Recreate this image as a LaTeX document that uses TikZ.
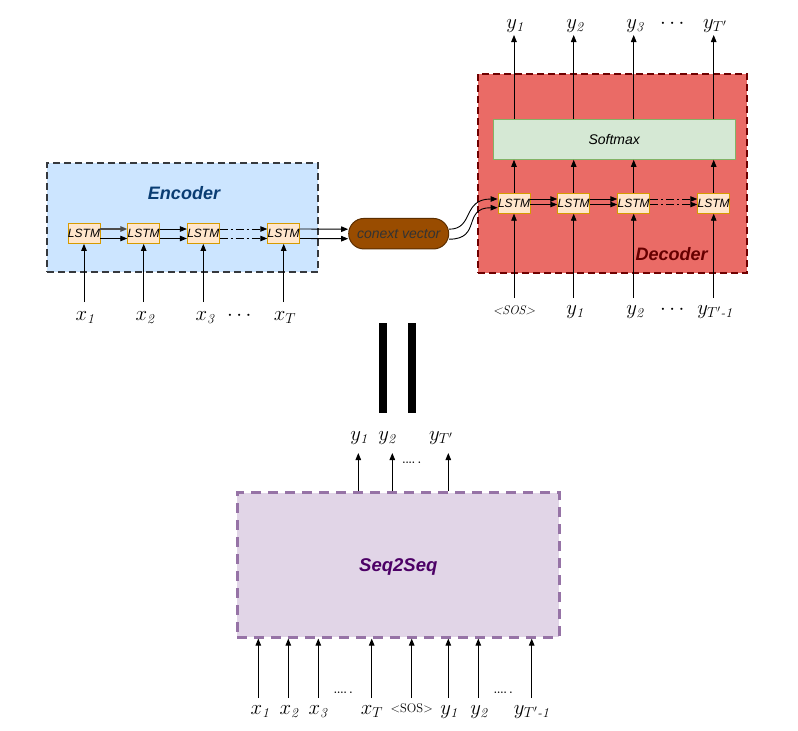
\documentclass[tikz,border=0pt]{standalone}
\usepackage{amsmath}
\usepackage{fontspec}
\setsansfont{Liberation Sans}
\usetikzlibrary{arrows.meta,calc,shapes.misc}
\definecolor{encfill}{HTML}{CCE5FF}
\definecolor{encdraw}{HTML}{36393D}
\definecolor{enctext}{HTML}{0A3D73}
\definecolor{decfill}{HTML}{EA6B66}
\definecolor{decdraw}{HTML}{6F0000}
\definecolor{dectext}{HTML}{660000}
\definecolor{lstmfill}{HTML}{FFE6CC}
\definecolor{lstmdraw}{HTML}{D79B00}
\definecolor{cvfill}{HTML}{994C00}
\definecolor{cvdraw}{HTML}{5C2E00}
\definecolor{cvtext}{HTML}{333333}
\definecolor{smfill}{HTML}{D5E8D4}
\definecolor{smdraw}{HTML}{82B366}
\definecolor{sqfill}{HTML}{E1D5E7}
\definecolor{sqdraw}{HTML}{9673A6}
\definecolor{sqtext}{HTML}{4C0066}
\newcommand{\mysub}[1]{\text{\itshape #1}}
\begin{document}
\begin{tikzpicture}[x=1pt,y=-1pt,
  lstm/.style={draw=lstmdraw, fill=lstmfill, line width=0.8pt, minimum width=31pt, minimum height=20pt, inner sep=0pt, font=\sffamily\itshape\fontsize{12}{12}\selectfont},
  arr/.style={-{Triangle[length=7pt,width=5.5pt]}, line width=0.9pt},
  lbl/.style={inner sep=0pt, anchor=base, font=\fontsize{19.5}{19.5}\selectfont},
  dotlbl/.style={inner sep=0pt, anchor=base, font=\fontsize{10}{10}\selectfont},
  dashdot/.style={dash pattern=on 8pt off 3pt on 2pt off 3pt},
  title/.style={inner sep=0pt, font=\sffamily\bfseries\itshape\fontsize{18}{18}\selectfont},
]
\useasboundingbox (0,0) rectangle (798,731);
\fill[white] (0,0) rectangle (798,731);

% ---------------- Encoder ----------------
\node[draw=encdraw, fill=encfill, line width=1.8pt, dash pattern=on 7pt off 4pt, minimum width=271pt, minimum height=109pt, inner sep=0pt] (enc) at (182.5,217.5) {};
\node[title, text=enctext] (enctitle) at (184,193) {Encoder};
\node[lstm] (e1) at (84,233.5) {LSTM};
\node[lstm] (e2) at (143.7,233.5) {LSTM};
\node[lstm] (e3) at (203.3,233.5) {LSTM};
\node[lstm] (e4) at (283.7,233.5) {LSTM};
\draw[arr, draw=black!70, line width=1.4pt] ($(e1.east)+(0,-4.5)$) -- ($(e2.west)+(0,-4.5)$);
\draw[arr] ($(e1.east)+(0,5)$) -- ($(e2.west)+(0,5)$);
\draw[arr] ($(e2.east)+(0,-4.5)$) -- ($(e3.west)+(0,-4.5)$);
\draw[arr] ($(e2.east)+(0,5)$) -- ($(e3.west)+(0,5)$);
\draw[arr, dashdot] ($(e3.east)+(0,-4.5)$) -- ($(e4.west)+(0,-4.5)$);
\draw[arr, dashdot] ($(e3.east)+(0,5)$) -- ($(e4.west)+(0,5)$);

\coordinate (xin1) at (84,302);
\coordinate (xin2) at (143.7,302);
\coordinate (xin3) at (203.3,302);
\coordinate (xin4) at (283.7,302);
\draw[arr] (xin1) -- (e1.south);
\draw[arr] (xin2) -- (e2.south);
\draw[arr] (xin3) -- (e3.south);
\draw[arr] (xin4) -- (e4.south);
\node[lbl] (lx1) at (85,320) {$x_{\mysub{1}}$};
\node[lbl] (lx2) at (145,320) {$x_{\mysub{2}}$};
\node[lbl] (lx3) at (205,320) {$x_{\mysub{3}}$};
\node[lbl] (lxd) at (241,320) {$\cdots$};
\node[lbl] (lxT) at (285,320) {$x_{T}$};

% ---------------- context vector ----------------
\node[draw=cvdraw, fill=cvfill, line width=1pt, rounded rectangle, minimum width=100pt, minimum height=30.5pt, inner sep=0pt, font=\sffamily\itshape\fontsize{14}{14}\selectfont, text=cvtext] (cv) at (398.7,233.7) {conext vector};
\draw[arr] ($(e4.east)+(0,-4.5)$) -- ($(cv.west)+(0,-4.5)$);
\draw[arr] ($(e4.east)+(0,5)$) -- ($(cv.west)+(0,5)$);

% ---------------- Decoder ----------------
\node[draw=decdraw, fill=decfill, line width=1.8pt, dash pattern=on 7pt off 4pt, minimum width=269pt, minimum height=198.7pt, inner sep=0pt] (dec) at (612.8,173.3) {};
\node[title, text=dectext] (dectitle) at (671.7,254.3) {Decoder};
\node[draw=smdraw, fill=smfill, line width=1pt, minimum width=241.7pt, minimum height=40pt, inner sep=0pt, font=\sffamily\itshape\fontsize{14}{14}\selectfont] (soft) at (614.2,139.3) {Softmax};
\node[lstm] (d1) at (514,203.3) {LSTM};
\node[lstm] (d2) at (573.7,203.3) {LSTM};
\node[lstm] (d3) at (633.7,203.3) {LSTM};
\node[lstm] (d4) at (713.7,203.3) {LSTM};
\draw[arr] ($(d1.east)+(0,-4.3)$) -- ($(d2.west)+(0,-4.3)$);
\draw[arr] ($(d1.east)+(0,1.2)$) -- ($(d2.west)+(0,1.2)$);
\draw[arr] ($(d2.east)+(0,-4.3)$) -- ($(d3.west)+(0,-4.3)$);
\draw[arr] ($(d2.east)+(0,1.2)$) -- ($(d3.west)+(0,1.2)$);
\draw[arr, dashdot] ($(d3.east)+(0,-4.3)$) -- ($(d4.west)+(0,-4.3)$);
\draw[arr, dashdot] ($(d3.east)+(0,1.2)$) -- ($(d4.west)+(0,1.2)$);

% curves from context vector to decoder
\draw[arr] ($(cv.east)+(0,-4.5)$) .. controls (474,229.2) and (462,199) .. ($(d1.west)+(0,-4.3)$);
\draw[arr] ($(cv.east)+(0,5.5)$) .. controls (482,239.2) and (462,207.7) .. ($(d1.west)+(0,4.4)$);

% LSTM -> softmax -> outputs
\foreach \i/\xx in {1/514,2/573.7,3/633.7,4/713.7}{
  \draw[arr] (d\i.north) -- (d\i.north |- soft.south);
  \coordinate (yout\i) at (\xx,35);
  \draw[arr] (d\i.north |- soft.north) -- (yout\i);
  \coordinate (yin\i) at (\xx,298);
  \draw[arr] (yin\i) -- (d\i.south);
}
\node[lbl] (ly1) at (515,28) {$y_{\mysub{1}}$};
\node[lbl] (ly2) at (575,28) {$y_{\mysub{2}}$};
\node[lbl] (ly3) at (635,28) {$y_{\mysub{3}}$};
\node[lbl] (lyd) at (674,28) {$\cdots$};
\node[lbl] (lyT) at (715,28) {$y_{T'}$};

\node[inner sep=0pt, anchor=base, font=\itshape\fontsize{12.5}{12.5}\selectfont] (lsos) at (514,314) {<SOS>};
\node[lbl] (li1) at (575,314) {$y_{\mysub{1}}$};
\node[lbl] (li2) at (635,314) {$y_{\mysub{2}}$};
\node[lbl] (lid) at (674,314) {$\cdots$};
\node[lbl] (liT) at (715,314) {$y_{T'\mysub{-1}}$};

% ---------------- equals sign ----------------
\node[fill=black, minimum width=7.4pt, minimum height=90pt, inner sep=0pt] (eqa) at (383,367.7) {};
\node[fill=black, minimum width=7.4pt, minimum height=90pt, inner sep=0pt] (eqb) at (412,367.7) {};

% ---------------- Seq2Seq ----------------
\node[draw=sqdraw, fill=sqfill, line width=2.6pt, dash pattern=on 10pt off 7pt, minimum width=322pt, minimum height=144.6pt, inner sep=0pt] (sq) at (398.3,565) {};
\node[title, text=sqtext, font=\sffamily\bfseries\itshape\fontsize{18.5}{18.5}\selectfont] (sqtitle) at (398.3,566.7) {Seq2Seq};

\foreach \i/\xx in {1/358.3,2/392.3,3/448.3}{
  \coordinate (so\i) at (\xx,453);
  \draw[arr] (sq.north -| so\i) -- (so\i);
}
\node[lbl] (so1l) at (359,440) {$y_{\mysub{1}}$};
\node[lbl] (so2l) at (387,440) {$y_{\mysub{2}}$};
\node[lbl] (so3l) at (441,440) {$y_{T'}$};
\node[dotlbl] (sodots) at (411.7,463) {\textbf{....\;.}};

\foreach \i/\xx in {1/258.3,2/288.3,3/318.3,4/371.7,5/411.7,6/448.3,7/478.3,8/531.7}{
  \coordinate (si\i) at (\xx,698);
  \draw[arr] (si\i) -- (sq.south -| si\i);
}
\node[lbl] (si1l) at (260,714) {$x_{\mysub{1}}$};
\node[lbl] (si2l) at (289,714) {$x_{\mysub{2}}$};
\node[lbl] (si3l) at (318,714) {$x_{\mysub{3}}$};
\node[dotlbl] (sidots1) at (343.3,693) {\textbf{....\;.}};
\node[lbl] (si4l) at (372,714) {$x_{T}$};
\node[inner sep=0pt, anchor=base, font=\fontsize{12.5}{12.5}\selectfont] (si5l) at (411.7,712) {<SOS>};
\node[lbl] (si6l) at (449,714) {$y_{\mysub{1}}$};
\node[lbl] (si7l) at (479,714) {$y_{\mysub{2}}$};
\node[dotlbl] (sidots2) at (503.3,693) {\textbf{....\;.}};
\node[lbl] (si8l) at (531.7,714) {$y_{T'\mysub{-1}}$};
\end{tikzpicture}
\end{document}
